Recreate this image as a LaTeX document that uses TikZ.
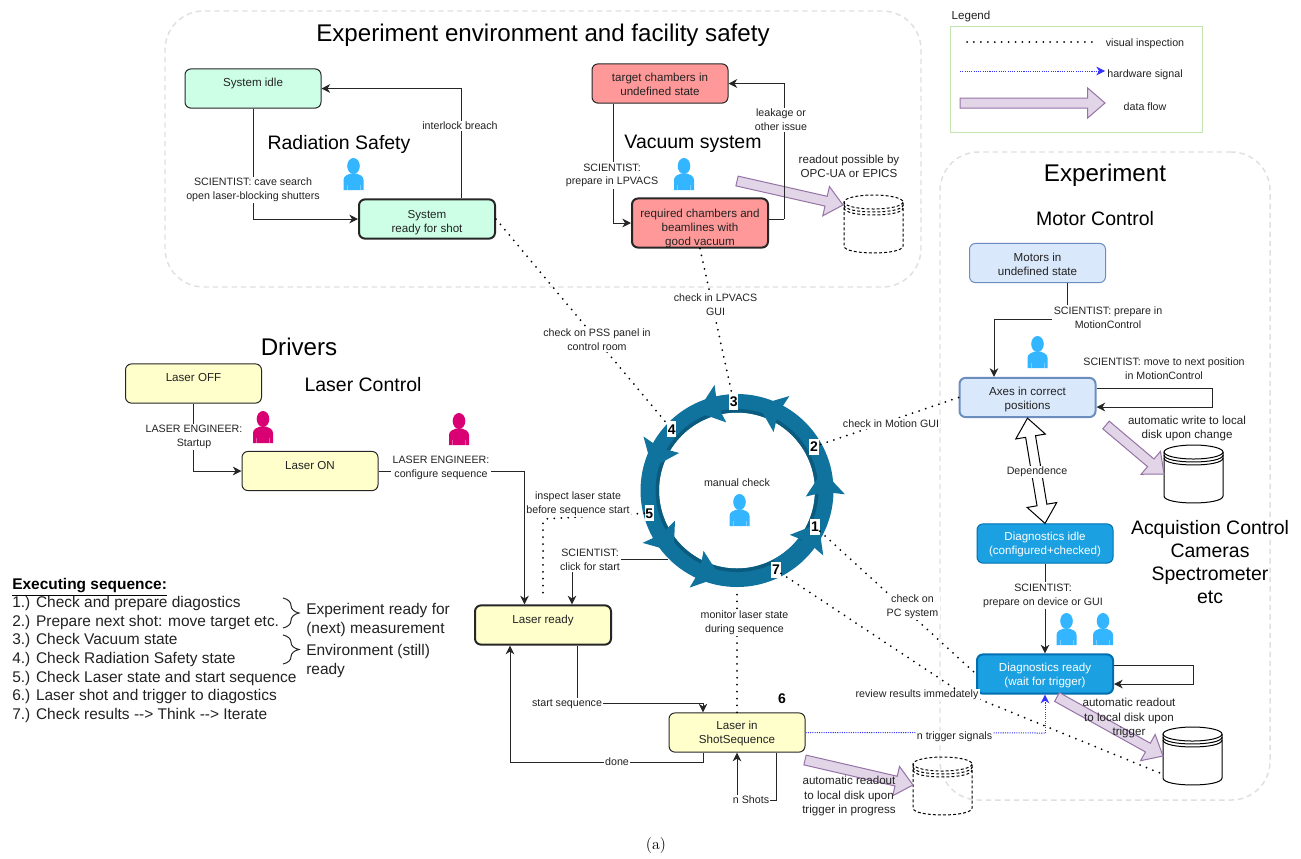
\documentclass[tikz,border=0pt]{standalone}
\usepackage{fontspec}
\setmainfont{Liberation Sans}
\newfontfamily\capfont{Latin Modern Roman}
\usetikzlibrary{arrows.meta,calc,decorations.pathreplacing}
\definecolor{ringblue}{HTML}{10739E}
\definecolor{ringdark}{HTML}{0B5B7E}
\definecolor{persblue}{HTML}{33B5FF}
\definecolor{persred}{HTML}{D80073}
\definecolor{dfill}{HTML}{E1D5E7}
\definecolor{dline}{HTML}{9673A6}
\definecolor{txt}{HTML}{222222}
\definecolor{sigblue}{HTML}{3333FF}
\definecolor{groupline}{HTML}{E0E0E0}
\definecolor{gfill}{HTML}{CCFFE6}
\definecolor{rfill}{HTML}{FF9999}
\definecolor{yfill}{HTML}{FFFFCC}
\definecolor{mfill}{HTML}{DAE8FC}
\definecolor{mline}{HTML}{6C8EBF}
\definecolor{dgfill}{HTML}{1BA1E2}
\definecolor{dgline}{HTML}{006EAF}
\definecolor{lgreen}{HTML}{C5E5B0}
\tikzset{
  x=0.75pt,y=-0.75pt,
  every node/.style={inner sep=0pt,text=txt},
  groupbox/.style={draw=groupline,line width=1.1pt,dash pattern=on 4pt off 3pt,rounded corners=29pt,fill=none},
  statebox/.style={draw=black!85,line width=0.75pt,rounded corners=4.5pt,minimum width=102pt,minimum height=29.4pt,align=center,font=\fontsize{8.7}{10.5}\selectfont},
  heavy/.style={line width=1.5pt},
  greenbox/.style={statebox,fill=gfill},
  redbox/.style={statebox,fill=rfill},
  yelbox/.style={statebox,fill=yfill},
  motorbox/.style={statebox,fill=mfill,draw=mline},
  diagbox/.style={statebox,fill=dgfill,draw=dgline,text=white},
  flow/.style={draw=black!85,line width=0.75pt,-{Stealth[length=6.5pt,width=6.5pt,inset=2pt]}},
  plainline/.style={draw=black!85,line width=0.75pt},
  dots/.style={draw=black,line width=1.5pt,line cap=round,dash pattern=on 0pt off 5.2pt},
  sig/.style={draw=sigblue,line width=0.75pt,dash pattern=on 0.8pt off 0.9pt},
  lab/.style={fill=white,inner sep=1pt,align=center,font=\fontsize{8}{10.3}\selectfont},
  clearlab/.style={align=center,font=\fontsize{8}{10.3}\selectfont},
  freelab/.style={align=center,font=\fontsize{8.7}{10.6}\selectfont},
  head/.style={align=center,font=\fontsize{14.6}{17.4}\selectfont,text=black},
  bighead/.style={align=center,font=\fontsize{18.1}{21}\selectfont,text=black},
  seq/.style={anchor=west,font=\fontsize{11.6}{14}\selectfont},
  numlab/.style={fill=white,inner sep=0.6pt,minimum height=12pt,font=\fontsize{10.5}{12}\bfseries\selectfont,text=black},
  dataflowline/.style={fill=dfill,draw=dline,line width=0.75pt,line join=miter},
  cylsolid/.style={draw=black,line width=0.75pt},
  cyldash/.style={draw=black,line width=0.75pt,dash pattern=on 2.2pt off 1.6pt},
  bracestyle/.style={draw=black!85,line width=0.75pt,decorate,decoration={brace,amplitude=12pt,aspect=0.5}},
  legendframe/.style={draw=lgreen,line width=0.75pt,minimum width=189pt,minimum height=79.5pt}
}
% person: centre x, top y, colour
\newcommand\personfig[3]{%
  \begin{scope}[shift={(#1,#2)}]
    \fill[#3] (0,8) ellipse[x radius=6.3,y radius=8];
    \fill[#3] (-10,32) -- (-10,22) .. controls (-10,18) and (-6,16.5) .. (-3,15.5) -- (3,15.5) .. controls (6,16.5) and (10,18) .. (10,22) -- (10,32) -- cycle;
    \draw[white,opacity=.35,line width=0.4pt] (-6.5,27) -- (-6.5,32) (6.5,27) -- (6.5,32);
  \end{scope}}
% cylinder: name, left x, top y, style
\newcommand\drumfig[4]{%
  \node[minimum width=44.25pt,minimum height=43.5pt] (#1) at (#2+29.5,#3+29) {};
  \begin{scope}[shift={(#2+29.5,#3)}]
    \draw[#4] (0,7) ellipse[x radius=29.5,y radius=7];
    \draw[#4] (-29.5,7) -- (-29.5,51) .. controls (-29.5,60.3) and (29.5,60.3) .. (29.5,51) -- (29.5,7);
    \draw[#4] (-29.5,10) .. controls (-29.5,19.3) and (29.5,19.3) .. (29.5,10);
    \draw[#4] (-29.5,13) .. controls (-29.5,22.3) and (29.5,22.3) .. (29.5,13);
  \end{scope}}
% fat data-flow arrow between two named coordinates
\newcommand\dataflow[2]{%
  \coordinate (dfh) at ($(#2)!13pt!(#1)$);
  \draw[dataflowline] ($(#1)!3.75pt!90:(#2)$) -- ($(dfh)!3.75pt!90:(#2)$) -- ($(dfh)!11.25pt!90:(#2)$) -- (#2) -- ($(dfh)!11.25pt!-90:(#2)$) -- ($(dfh)!3.75pt!-90:(#2)$) -- ($(#1)!3.75pt!-90:(#2)$) -- cycle;}
\begin{document}
\begin{tikzpicture}
\useasboundingbox (0,0) rectangle (1301,858);
\fill[white] (0,0) rectangle (1301,858);

% groups
\node[groupbox,minimum width=567pt,minimum height=207pt] (envgroup) at (543,149) {};
\node[groupbox,minimum width=247.5pt,minimum height=486pt] (expgroup) at (1105,476) {};

% ring
\coordinate (rc) at (737,490.5);
\fill[ringblue,even odd rule] (rc) circle[radius=96.5] (rc) circle[radius=78];
\fill[ringdark,even odd rule] (rc) circle[radius=81.5] (rc) circle[radius=78];
\draw[ringblue,line width=2.8pt] plot[domain=298:322,samples=12] ({737+79.8*cos(\x)},{490.5-79.8*sin(\x)});
\foreach \a in {-3,60,101,149,208,243,322}{
  \fill[ringblue] ($(rc)+({-(\a-2)}:69)$) -- ($(rc)+({-(\a+16)}:88)$) -- ($(rc)+({-(\a+1)}:108)$) -- ($(rc)+({-(\a+2)}:88)$) -- cycle;
}
\node[numlab] (n1) at (815,526.7) {1};
\node[numlab] (n2) at (814,446.7) {2};
\node[numlab] (n3) at (733.7,402) {3};
\node[numlab] (n4) at (671.7,429.3) {4};
\node[numlab] (n5) at (649.3,513.3) {5};
\node[numlab] (n7) at (776,570) {7};
\node[font=\fontsize{10.5}{12}\bfseries\selectfont,text=black] (n6) at (782,699) {6};
\node[clearlab] (manual) at (737,483) {manual check};
\personfig{739.5}{494}{persblue}

% titles
\node[bighead] (t1) at (543,35) {Experiment environment and facility safety};
\node[bighead] (t2) at (1105,175) {Experiment};
\node[bighead] (t3) at (299,347) {Drivers};
\node[head] (t4) at (339,144) {Radiation Safety};
\node[head] (t5) at (693,144) {Vacuum system};
\node[head] (t6) at (363,385) {Laser Control};
\node[head] (t7) at (1095,219) {Motor Control};
\node[head] (t8) at (1210,562) {Acquistion Control\\Cameras\\Spectrometer\\etc};

% state boxes
\node[greenbox] (sysidle) at (253,88.5) {\rule{0pt}{8pt}System idle\\\mbox{}};
\node[greenbox,heavy] (sysready) at (427,219) {\rule{0pt}{11pt}System\\ready for shot};
\node[redbox] (chundef) at (660,83.5) {\rule{0pt}{8pt}target chambers in\\undefined state};
\node[redbox,heavy,minimum height=36.5pt] (chgood) at (700,223) {\rule{0pt}{14pt}required chambers and\\beamlines with\\good vacuum};
\node[yelbox] (lasoff) at (193.5,383.5) {\rule{0pt}{8pt}Laser OFF\\\mbox{}};
\node[yelbox] (lason) at (310,471) {\rule{0pt}{8pt}Laser ON\\\mbox{}};
\node[yelbox,heavy] (lasready) at (543,625) {\rule{0pt}{8pt}Laser ready\\\mbox{}};
\node[yelbox] (lasshot) at (737,732.5) {\rule{0pt}{8pt}Laser in\\ShotSequence};
\node[motorbox] (motors) at (1037.5,263) {\rule{0pt}{8pt}Motors in\\undefined state};
\node[motorbox,heavy] (axes) at (1027.5,397.5) {\rule{0pt}{9pt}Axes in correct\\positions};
\node[diagbox] (dgidle) at (1045,543.5) {\rule{0pt}{8pt}Diagnostics idle\\(configured+checked)};
\node[diagbox,heavy] (dgready) at (1045,674) {\rule{0pt}{9pt}Diagnostics ready\\(wait for trigger)};

% persons
\personfig{353.5}{158}{persblue}
\personfig{684}{158}{persblue}
\personfig{1037.5}{336}{persblue}
\personfig{1066.5}{613}{persblue}
\personfig{1103}{613}{persblue}
\personfig{263}{411}{persred}
\personfig{459}{413}{persred}

% drums
\drumfig{drumvac}{844}{195}{cyldash}
\drumfig{drumaxes}{1164}{445}{cylsolid}
\drumfig{drumdiag}{1163}{727}{cylsolid}
\drumfig{drumshot}{913}{757}{cyldash}

% data flow arrows
\coordinate (dfa1) at (737,181); \coordinate (dfb1) at (843,205);
\coordinate (dfa2) at (1106,425); \coordinate (dfb2) at (1164,474);
\coordinate (dfa3) at (1057,697); \coordinate (dfb3) at (1163,756);
\coordinate (dfa4) at (805,760); \coordinate (dfb4) at (913,785);
\dataflow{dfa1}{dfb1}
\dataflow{dfa2}{dfb2}
\dataflow{dfa3}{dfb3}
\dataflow{dfa4}{dfb4}

% dependence double arrow
\coordinate (dp1) at ($(axes.south)!14pt!(dgidle.north)$);
\coordinate (dp2) at ($(dgidle.north)!14pt!(axes.south)$);
\draw[draw=black,fill=white,line width=0.75pt]
  (axes.south) -- ($(dp1)!11.25pt!90:(axes.south)$) -- ($(dp1)!3.75pt!90:(axes.south)$)
  -- ($(dp2)!3.75pt!-90:(dgidle.north)$) -- ($(dp2)!11.25pt!-90:(dgidle.north)$) -- (dgidle.north)
  -- ($(dp2)!11.25pt!90:(dgidle.north)$) -- ($(dp2)!3.75pt!90:(dgidle.north)$)
  -- ($(dp1)!3.75pt!-90:(axes.south)$) -- ($(dp1)!11.25pt!-90:(axes.south)$) -- cycle;

% dotted connectors
\draw[dots] (sysready.east) -- (n4);
\draw[dots] (chgood.south) -- (n3);
\draw[dots] (axes.west) -- (n2);
\draw[dots] (n1) -- (dgready.west);
\coordinate (bend7) at (957,690);
\draw[dots] (n7) -- (bend7) -- ([shift={(-3,0)}]drumdiag.west |- 0,773);
\draw[dots] (lasshot.north) -- (rc |- 0,588);
\coordinate (ins) at (543,519);
\draw[dots,rounded corners=3pt] (n5.west) -- (ins) -- ([shift={(0,-6)}]lasready.north);

% solid connectors
\draw[flow] (sysidle.south) |- (sysready.west);
\draw[flow] ([shift={(34.5,0)}]sysready.north) |- (sysidle.east);
\draw[flow] ([shift={(-47,0)}]chundef.south) |- (chgood.west);
\coordinate (leakc) at (784,219);
\draw[plainline] (chgood.east |- leakc) -- (leakc);
\draw[flow] (leakc) |- (chundef.east);
\draw[flow] (lasoff.south) |- (lason.west);
\draw[flow] (lason.east) -| ([shift={(-18.5,0)}]lasready.north);
\coordinate (clk) at (668,559);
\draw[flow] (clk) -| ([shift={(29,0)}]lasready.north);
\draw[flow] ([shift={(34,0)}]lasready.south) |- (660,703.5) -| ([shift={(-34,0)}]lasshot.north);
\draw[flow] ([shift={(-34,0)}]lasshot.south) |- (510,762) -- ([shift={(-33,0)}]lasready.south);
\draw[flow] ([shift={(39,0)}]lasshot.south) |- (737,800) -- (lasshot.south);
\draw[flow] ([shift={(29.5,0)}]motors.south) |- (994,319) -- ([shift={(-33.5,0)}]axes.north);
\draw[flow] ([shift={(0,-9.5)}]axes.east) -- ++(116,0) -- ++(0,19) -- ([shift={(0,9.5)}]axes.east);
\draw[flow] (dgidle.south) -- (dgready.north);
\draw[flow] ([shift={(0,-9)}]dgready.east) -- ++(79,0) -- ++(0,19) -- ([shift={(0,10)}]dgready.east);

% hardware signal
\coordinate (trg) at (1045,733);
\draw[sig] (lasshot.east) -- (trg);
\draw[sig,-{Stealth[length=6.5pt,width=6.5pt,inset=2pt,sep=0pt]}] (trg) -- (dgready.south);

% connector labels
\node[lab] (l1) at (253,190) {SCIENTIST: cave search\\open laser-blocking shutters};
\node[lab] (l2) at (460,126) {interlock breach};
\node[lab] (l3) at (612,175.5) {SCIENTIST:\\prepare in LPVACS};
\node[lab] (l4) at (781,120) {leakage or\\other issue};
\node[lab] (l5) at (597,339.5) {check on PSS panel in\\control room};
\node[lab] (l6) at (715.5,305) {check in LPVACS\\GUI};
\node[lab] (l7) at (891,423.5) {check in Motion GUI};
\node[lab] (l8) at (912.5,607) {check on\\PC system};
\node[lab] (l9) at (917,695) {review results immedately};
\node[lab] (l10) at (954.5,737) {n trigger signals};
\node[lab] (l11) at (194,437) {LASER ENGINEER:\\Startup};
\node[lab] (l12) at (441,468) {LASER ENGINEER:\\configure sequence};
\node[lab] (l13) at (578,503.5) {inspect laser state\\before sequence start};
\node[lab] (l14) at (590,560) {SCIENTIST:\\click for start};
\node[lab] (l15) at (744.5,623) {monitor laser state\\during sequence};
\node[lab] (l16) at (567,704) {start sequence};
\node[lab] (l17) at (617,762) {done};
\node[lab] (l18) at (751,800) {n Shots};
\node[lab] (l19) at (1108,317.5) {SCIENTIST: prepare in\\MotionControl};
\node[clearlab] (l20) at (1164,369) {SCIENTIST: move to next position\\in MotionControl};
\node[lab] (l21) at (1037,472) {Dependence};
\node[lab] (l22) at (1043,595.5) {SCIENTIST:\\prepare on device or GUI};
\node[freelab] (l23) at (849,166) {readout possible by\\OPC-UA or EPICS};
\node[freelab] (l24) at (1187,428.5) {automatic write to local\\disk upon change};
\node[freelab] (l25) at (1129,718) {automatic readout\\to local disk upon\\trigger};
\node[freelab] (l26) at (849,796) {automatic readout\\to local disk upon\\trigger in progress};

% legend
\node[anchor=center,font=\fontsize{8.7}{10}\selectfont] (legt) at (971,16) {Legend};
\node[legendframe] (legbox) at (1076,79) {};
\coordinate (lg1a) at (967,42); \coordinate (lg1b) at (1095,42);
\draw[dots] (lg1a) -- (lg1b);
\coordinate (lg2a) at (960,71); \coordinate (lg2b) at (1105,71);
\draw[sig,-{Stealth[length=6.5pt,width=6.5pt,inset=2pt]}] (lg2a) -- (lg2b);
\coordinate (lg3a) at (960,103); \coordinate (lg3b) at (1105,103);
\dataflow{lg3a}{lg3b}
\node[clearlab] (lgt1) at (1145,43.5) {visual inspection};
\node[clearlab] (lgt2) at (1145,75) {hardware signal};
\node[clearlab] (lgt3) at (1145,107) {data flow};

% sequence text
\node[seq,font=\fontsize{11.6}{14}\bfseries\selectfont,text=black] (s0) at (12,587) {\underline{Executing sequence:}};
\node[seq] (s1) at (12,603) {1.) Check and prepare diagostics};
\node[seq] (s2) at (12,622) {2.) Prepare next shot: move target etc.};
\node[seq] (s3) at (12,640) {3.) Check Vacuum state};
\node[seq] (s4) at (12,659) {4.) Check Radiation Safety state};
\node[seq] (s5) at (12,678) {5.) Check Laser state and start sequence};
\node[seq] (s6) at (12,696) {6.) Laser shot and trigger to diagostics};
\node[seq] (s7) at (12,715) {7.) Check results -{}-{}> Think -{}-{}> Iterate};
\coordinate (b1a) at (283,598); \coordinate (b1b) at (283,628);
\coordinate (b2a) at (283,635); \coordinate (b2b) at (283,664);
\draw[bracestyle] (b1a) -- (b1b);
\draw[bracestyle] (b2a) -- (b2b);
\node[seq] (e1) at (306,610) {Experiment ready for};
\node[seq] (e2) at (306,629) {(next) measurement};
\node[seq] (e3) at (306,651) {Environment (still)};
\node[seq] (e4) at (306,670) {ready};

% caption
\node[font=\capfont\fontsize{12}{14}\selectfont,text=black] (cap) at (656,845) {(a)};
\end{tikzpicture}
\end{document}
